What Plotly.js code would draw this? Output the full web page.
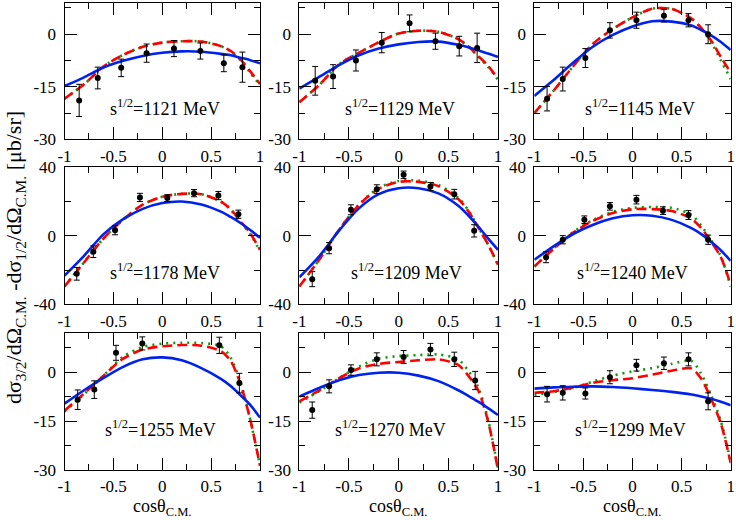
<!DOCTYPE html>
<html>
<head>
<meta charset="utf-8">
<script src="https://cdn.plot.ly/plotly-3.0.1.min.js"></script>
<style>html,body{margin:0;padding:0;background:#fff;}#plot{width:736px;height:520px;}</style>
</head>
<body>
<div id="plot"></div>
<script>
// Energies (MeV) for each panel
const energies = [1121, 1129, 1145, 1178, 1209, 1240, 1255, 1270, 1299];

// Common x grid of the model curves
const curveX = [-1, -0.8, -0.6, -0.4, -0.2, 0, 0.2, 0.4, 0.6, 0.7, 0.8, 0.9, 1];

// Blue solid curves
const blueCurves = [
  [-14.8, -12.3, -9.5, -7.6, -6.2, -5.3, -4.9, -5.0, -5.6, -6.0, -6.7, -7.4, -8.3],
  [-15.5, -12.2, -8.8, -6.0, -4.1, -2.9, -2.2, -2.1, -3.0, -3.7, -4.6, -5.5, -6.5],
  [-17.6, -13.0, -8.0, -3.5, -0.2, 2.2, 3.7, 3.6, 2.5, 1.2, -0.3, -2.2, -4.5],
  [-23.3, -11.7, 1.0, 9.7, 15.7, 19.1, 20.0, 18.3, 14.1, 11.0, 7.5, 3.4, -1.2],
  [-24.3, -12.0, 3.0, 16.0, 24.3, 27.8, 27.8, 24.8, 17.6, 12.0, 5.5, -1.5, -8.2],
  [-14.0, -6.0, 1.2, 6.5, 10.2, 12.0, 11.7, 9.3, 4.5, 1.0, -3.5, -8.5, -14.6],
  [-9.6, -5.5, -1.7, 1.7, 4.0, 4.6, 3.7, 1.3, -2.0, -4.2, -7.0, -10.0, -13.9],
  [-7.4, -4.8, -2.4, -0.8, -0.1, -0.1, -1.0, -2.7, -5.5, -7.2, -9.0, -11.0, -13.1],
  [-5.0, -4.6, -4.4, -4.3, -4.5, -4.9, -5.4, -6.0, -6.8, -7.4, -8.1, -9.0, -10.1]
];

// Red dashed curves
const redCurves = [
  [-18.4, -14.3, -9.2, -5.9, -3.6, -2.4, -2.0, -2.1, -3.4, -4.8, -7.2, -10.6, -14.2],
  [-19.4, -14.5, -8.6, -5.3, -2.3, 0.2, 1.0, 0.7, -1.4, -3.4, -6.2, -9.0, -12.8],
  [-22.5, -16.0, -9.0, -2.7, 1.5, 4.8, 7.3, 7.2, 4.5, 1.8, -1.8, -6.5, -11.0],
  [-29.6, -15.5, -1.5, 9.5, 18.2, 22.8, 24.5, 24.3, 20.0, 15.5, 8.5, 1.5, -8.2],
  [-29.6, -14.0, 3.5, 18.0, 27.5, 31.5, 31.5, 29.0, 21.5, 14.5, 5.0, -5.0, -16.9],
  [-17.9, -7.5, 2.0, 8.8, 13.3, 15.5, 15.6, 14.5, 10.0, 4.5, -3.5, -12.5, -28.7],
  [-11.8, -6.5, -1.0, 4.2, 7.0, 8.0, 8.4, 8.2, 6.5, 3.5, -3.5, -14.5, -28.7],
  [-8.9, -5.6, -1.8, 1.2, 2.6, 3.2, 3.7, 4.0, 2.3, -1.0, -5.5, -15.0, -30.0],
  [-6.3, -5.8, -4.6, -3.2, -2.4, -1.8, -0.7, 0.5, 1.2, -2.0, -8.1, -15.7, -27.8]
];

// Green dotted curves
const greenCurves = [
  [-18.4, -14.3, -9.2, -5.9, -3.6, -2.4, -2.0, -2.1, -3.4, -4.9, -7.4, -11.0, -14.5],
  [-19.4, -14.5, -8.6, -5.3, -2.3, 0.2, 1.0, 0.7, -1.4, -3.5, -6.4, -9.3, -13.0],
  [-22.5, -16.0, -9.0, -2.7, 1.5, 4.8, 7.3, 7.2, 4.5, 1.6, -2.2, -7.5, -12.8],
  [-29.6, -15.5, -1.5, 9.5, 18.2, 22.8, 24.5, 24.3, 20.0, 15.3, 8.2, 1.0, -9.0],
  [-29.6, -14.0, 3.5, 18.2, 27.9, 32.0, 32.2, 29.6, 22.2, 15.0, 5.2, -5.0, -17.0],
  [-17.9, -7.3, 2.3, 9.3, 14.0, 16.3, 16.8, 16.3, 12.2, 6.0, -2.5, -12.0, -29.7],
  [-12.0, -6.7, -1.0, 4.8, 7.8, 8.8, 9.1, 9.0, 8.0, 4.5, -3.0, -14.5, -28.7],
  [-9.3, -5.8, -1.8, 1.8, 4.2, 5.0, 5.3, 5.5, 4.0, 0.5, -4.5, -14.5, -29.7],
  [-7.0, -6.0, -4.8, -2.8, -1.0, 0.3, 1.3, 2.6, 3.5, -0.5, -7.0, -15.0, -27.5]
];

// Experimental points
const dataX = [
  [-0.85, -0.66, -0.42, -0.16, 0.12, 0.39, 0.63, 0.82],
  [-0.84, -0.66, -0.43, -0.17, 0.11, 0.37, 0.61, 0.79],
  [-0.87, -0.71, -0.48, -0.23, 0.04, 0.32, 0.57, 0.77],
  [-0.875, -0.705, -0.483, -0.228, 0.052, 0.325, 0.574, 0.779],
  [-0.87, -0.70, -0.48, -0.22, 0.05, 0.32, 0.56, 0.76],
  [-0.88, -0.71, -0.49, -0.23, 0.04, 0.31, 0.57, 0.77],
  [-0.865, -0.695, -0.473, -0.204, 0.584, 0.789],
  [-0.87, -0.70, -0.48, -0.22, 0.05, 0.32, 0.56, 0.77],
  [-0.87, -0.71, -0.48, -0.23, 0.04, 0.32, 0.57, 0.77]
];
const dataY = [
  [-18.9, -12.5, -9.6, -5.4, -4.1, -4.8, -8.3, -9.4],
  [-13.3, -12.1, -7.5, -2.4, 3.1, -2.0, -3.4, -3.9],
  [-18.4, -12.8, -6.8, 1.1, 4.0, 5.3, 4.0, 0.0],
  [-22.2, -9.3, 3.3, 22.4, 22.0, 24.9, 23.5, 12.6],
  [-25.3, -7.2, 15.2, 27.2, 35.6, 28.8, 24.3, 2.9],
  [-12.5, -2.3, 9.4, 17.2, 21.1, 14.7, 12.1, -2.3],
  [-8.4, -5.3, 6.0, 8.9, 8.3, -3.3],
  [-11.6, -4.3, 0.7, 4.0, 4.7, 7.0, 4.0, -2.5],
  [-6.7, -6.3, -6.5, -1.5, 2.2, 2.8, 4.0, -8.9]
];
const dataErr = [
  [4.6, 3.1, 2.5, 2.6, 2.3, 2.3, 2.4, 4.3],
  [4.1, 3.4, 3.0, 2.9, 2.4, 2.3, 2.8, 4.2],
  [3.5, 3.4, 2.7, 2.2, 2.3, 1.8, 1.9, 2.7],
  [3.7, 3.4, 2.7, 2.4, 2.0, 2.1, 2.4, 2.4],
  [4.4, 3.3, 2.9, 2.6, 2.2, 2.3, 2.8, 3.6],
  [3.2, 2.4, 2.2, 2.2, 2.5, 2.2, 2.6, 2.7],
  [3.0, 2.7, 2.3, 2.0, 2.5, 3.0],
  [2.5, 2.0, 1.6, 2.0, 2.0, 1.9, 2.2, 2.8],
  [2.4, 2.2, 1.7, 2.0, 1.8, 1.9, 2.0, 2.6]
];

// Axis ticks
const xTickVals = [-1, -0.5, 0, 0.5, 1];
const xTickText = ['-1', '-0.5', '0', '0.5', '1'];
const yTickValsA = [-30, -15, 0];
const yTickTextA = ['-30', '-15', '0'];
const yTickValsB = [-40, 0, 40];
const yTickTextB = ['-40', '0', '40'];
const yRanges = [[-30, 9], [-40, 40], [-30, 12]];

const W = 736, H = 520;
const colPx = [[64.5, 260], [299.3, 498], [534.3, 730.7]];
const rowPx = [[2.7, 139.3], [167.3, 304.3], [333.3, 470]];
const annY = [0.236, 0.238, 0.307];
const annLeftX = [-0.555, -0.56, -0.504, -0.555, -0.5, -0.586, -0.606, -0.66, -0.606];

const FONT = '"Liberation Serif", "Times New Roman", Times, serif';
const traces = [];
const layout = {
  width: W, height: H,
  margin: {l: 0, r: 0, t: 0, b: 0},
  paper_bgcolor: 'white', plot_bgcolor: 'white',
  showlegend: false,
  font: {family: FONT, size: 16, color: 'black'},
  annotations: []
};

for (let i = 0; i < 9; i++) {
  const k = i + 1;
  const col = i % 3, row = Math.floor(i / 3);
  const xa = 'x' + (k > 1 ? k : ''), ya = 'y' + (k > 1 ? k : '');
  const xName = 'xaxis' + (k > 1 ? k : ''), yName = 'yaxis' + (k > 1 ? k : '');

  traces.push({x: curveX, y: greenCurves[i], xaxis: xa, yaxis: ya, mode: 'lines',
    line: {color: '#0a9a0a', width: 2.6, dash: '2px,5px', shape: 'spline', smoothing: 0.8}});
  traces.push({x: curveX, y: redCurves[i], xaxis: xa, yaxis: ya, mode: 'lines',
    line: {color: '#ff0000', width: 2.6, dash: '10px,5px', shape: 'spline', smoothing: 0.8}});
  traces.push({x: curveX, y: blueCurves[i], xaxis: xa, yaxis: ya, mode: 'lines',
    line: {color: '#0022ee', width: 2.6, shape: 'spline', smoothing: 0.8}});
  traces.push({x: dataX[i], y: dataY[i], xaxis: xa, yaxis: ya, mode: 'markers',
    marker: {color: 'black', size: 6},
    error_y: {type: 'data', array: dataErr[i], visible: true, color: 'black', thickness: 1, width: 3}});

  const common = {
    showline: true, linecolor: 'black', linewidth: 1, mirror: 'allticks',
    ticks: 'inside', ticklen: 12, tickwidth: 1, tickcolor: 'black',
    showgrid: false, zeroline: false, fixedrange: true,
    tickfont: {family: FONT, size: 17, color: 'black'}
  };
  layout[xName] = Object.assign({}, common, {
    anchor: ya,
    domain: [colPx[col][0] / W, colPx[col][1] / W],
    range: [-1, 1],
    tickmode: 'array', tickvals: xTickVals, ticktext: xTickText,
    minor: {tickmode: 'linear', tick0: -1, dtick: 0.25, ticks: 'inside', ticklen: 6, tickcolor: 'black', tickwidth: 1},
    ticklabelstandoff: 1
  });
  const isMid = row === 1;
  layout[yName] = Object.assign({}, common, {
    anchor: xa,
    domain: [1 - rowPx[row][1] / H, 1 - rowPx[row][0] / H],
    range: yRanges[row],
    tickmode: 'array',
    tickvals: isMid ? yTickValsB : yTickValsA,
    ticktext: isMid ? yTickTextB : yTickTextA,
    minor: {tickmode: 'linear', tick0: 0, dtick: isMid ? 20 : 7.5, ticks: 'inside', ticklen: 6, tickcolor: 'black', tickwidth: 1},
    ticklabelstandoff: 4
  });

  layout.annotations.push({
    xref: xa, yref: ya + ' domain',
    x: annLeftX[i], y: annY[row], xanchor: 'left', yanchor: 'middle',
    text: 's<sup>1/2</sup>=' + energies[i] + ' MeV', showarrow: false,
    font: {family: FONT, size: 18, color: 'black'}
  });
  if (row === 2) {
    layout.annotations.push({
      xref: 'paper', yref: 'paper',
      x: (colPx[col][0] + colPx[col][1]) / 2 / W, y: 1 - 507 / H,
      xanchor: 'center', yanchor: 'middle',
      text: 'cosθ<sub>C.M.</sub>', showarrow: false,
      font: {family: FONT, size: 18, color: 'black'}
    });
  }
}

layout.annotations.push({
  xref: 'paper', yref: 'paper', x: 15 / W, y: 1 - 258 / H,
  xanchor: 'center', yanchor: 'middle', textangle: -90,
  text: 'dσ<sub>3/2</sub>/dΩ<sub>C.M.</sub> -dσ<sub>1/2</sub>/dΩ<sub>C.M.</sub> [μb/sr]',
  showarrow: false, font: {family: FONT, size: 22, color: 'black'}
});

Plotly.newPlot('plot', traces, layout, {staticPlot: true, displayModeBar: false});
</script>
</body>
</html>
